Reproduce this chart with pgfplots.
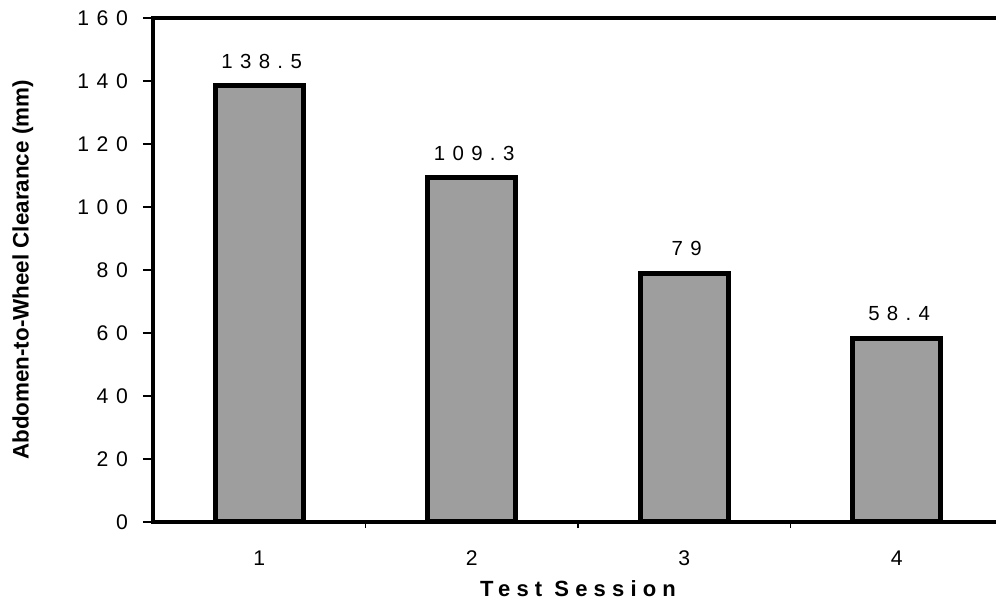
\documentclass[border=0pt]{standalone}
\usepackage{fontspec}
\setmainfont{Liberation Sans}
\newfontfamily\spf[LetterSpace=36]{Liberation Sans}
\newfontfamily\spl[LetterSpace=28]{Liberation Sans}
\usepackage{pgfplots}
\pgfplotsset{compat=1.18}
\definecolor{barfill}{gray}{0.62}
\begin{document}
\begin{tikzpicture}
\path[use as bounding box, clip] (-76.5pt,-44pt) rectangle (421.5pt,261pt);
\begin{axis}[
  at={(0pt,0pt)}, anchor=south west,
  scale only axis, width=425pt, height=252pt,
  xmin=0.5, xmax=4.5, ymin=0, ymax=160,
  ytick={0,20,...,160},
  xtick={1,2,3,4}, minor xtick={1.5,2.5,3.5},
  major x tick style={draw=none},
  tick align=outside, major tick length=5pt, minor tick length=3pt,
  tick pos=left,
  axis line style={line width=1.8pt},
  tick style={line width=0.6pt, black},
  /pgf/number format/assume math mode=true,
  tick label style={font=\spf\fontsize{10.6}{12}\selectfont},
  yticklabel style={xshift=-4pt},
  xticklabel style={yshift=-6pt},
  xlabel={Test Session},
  xlabel style={font=\spl\bfseries\fontsize{11}{13}\selectfont, at={(axis description cs:0.5,0)}, anchor=base, yshift=-37pt},
  ylabel={Abdomen-to-Wheel Clearance (mm)},
  ylabel style={font=\bfseries\fontsize{11.2}{13}\selectfont, at={(axis description cs:-0.153,0.5)}, anchor=center},
  ybar, bar width=44pt,
  nodes near coords,
  every node near coord/.append style={font=\spf\fontsize{10.2}{12}\selectfont, anchor=south, yshift=4pt, xshift=0.12em},
]
\addplot[draw=black, line width=2.5pt, fill=barfill] coordinates {(1,138.5) (2,109.3) (3,79) (4,58.4)};
\end{axis}
\end{tikzpicture}
\end{document}
